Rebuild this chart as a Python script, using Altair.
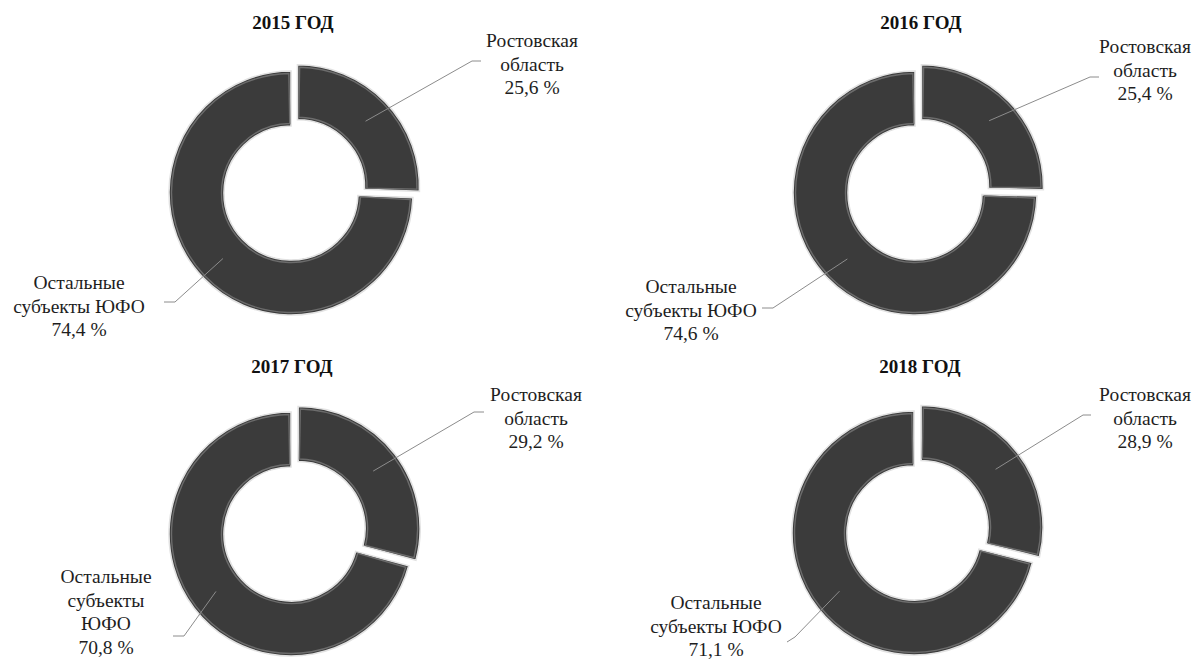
import altair as alt
import pandas as pd

# Share of the Rostov region among the subjects of the Southern Federal District (ЮФО), %
years = [2015, 2016, 2017, 2018]
rostov_share = [25.6, 25.4, 29.2, 28.9]
other_share = [74.4, 74.6, 70.8, 71.1]
rostov_text = "Ростовская\nобласть"
other_text = [
    "Остальные\nсубъекты ЮФО",
    "Остальные\nсубъекты ЮФО",
    "Остальные\nсубъекты\nЮФО",
    "Остальные\nсубъекты ЮФО",
]

# ---- layout (page pixels) ----
PAGE_W, PAGE_H = 1200, 662
R_IN, R_OUT = 67, 122
R_MID = (R_IN + R_OUT) / 2
EXPLODE = 9
FONT = "'Liberation Serif', 'Times New Roman', serif"
layout = {
    2015: dict(center=(291, 193), title=(293, 23),
               r_text=(532, 32), r_end=(481, 61), r_elbow=(472, 61),
               o_text=(79, 274), o_end=(164, 302), o_elbow=(175, 302)),
    2016: dict(center=(915, 193), title=(921, 23),
               r_text=(1145, 38), r_end=(1099, 77), r_elbow=(1090, 77),
               o_text=(691, 278), o_end=(762, 308), o_elbow=(773, 308)),
    2017: dict(center=(291, 534), title=(292, 367),
               r_text=(536, 386), r_end=(484, 412), r_elbow=(474, 412),
               o_text=(106, 568), o_end=(173, 636), o_elbow=(184, 636)),
    2018: dict(center=(914, 533), title=(920, 367),
               r_text=(1145, 386), r_end=(1091, 415), r_elbow=(1083, 415),
               o_text=(716, 594), o_end=(787, 642), o_elbow=(795, 637)),
}


def px(name):
    return alt.X(f"{name}:Q", scale=None, axis=None)


def py(name):
    return alt.Y(f"{name}:Q", scale=None, axis=None)


def pick(val_r, val_o):
    return f"datum.key == 'r' ? {val_r} : {val_o}"


def donut_layers(i):
    yr = years[i]
    L = layout[yr]
    cx, cy = L["center"]
    rt, ot = L["r_text"], L["o_text"]
    re_, oe = L["r_end"], L["o_end"]
    rb, ob = L["r_elbow"], L["o_elbow"]
    tt = L["title"]

    df = pd.DataFrame({
        "year": [yr, yr],
        "key": ["r", "o"],
        "region": ["Ростовская область", "Остальные субъекты ЮФО"],
        "label": [rostov_text, other_text[i]],
        "share": [rostov_share[i], other_share[i]],
        "order": [0, 1],
    })

    base = (
        alt.Chart(df)
        .transform_joinaggregate(total="sum(share)")
        .transform_window(cum="sum(share)", sort=[alt.SortField("order")])
        .transform_calculate(a1="2 * PI * datum.cum / datum.total")
        .transform_calculate(a0="2 * PI * (datum.cum - datum.share) / datum.total")
        .transform_calculate(mid="(datum.a0 + datum.a1) / 2")
        .transform_calculate(ex=pick(EXPLODE, 0))
        .transform_calculate(cx=f"{cx} + datum.ex * sin(datum.mid)")
        .transform_calculate(cy=f"{cy} - datum.ex * cos(datum.mid)")
        .transform_calculate(lx=f"datum.cx + {R_MID} * sin(datum.mid)")
        .transform_calculate(ly=f"datum.cy - {R_MID} * cos(datum.mid)")
        .transform_calculate(bx=pick(rb[0], ob[0]), by=pick(rb[1], ob[1]))
        .transform_calculate(ux=pick(re_[0], oe[0]), uy=pick(re_[1], oe[1]))
        .transform_calculate(tx=pick(rt[0], ot[0]), ty=pick(rt[1], ot[1]))
        .transform_calculate(
            txt="datum.label + '\\n' + replace(format(datum.share, '.1f'), '.', ',') + ' %'"
        )
        .transform_calculate(ia0="datum.a0 + 0.018", ia1="datum.a1 - 0.018")
    )

    ring = base.mark_arc(
        innerRadius=R_IN, outerRadius=R_OUT,
        fill="#3b3b3b", stroke="#e2e2e2", strokeWidth=1.6,
    ).encode(
        x=px("cx"), y=py("cy"),
        theta=alt.Theta("a0:Q", scale=None), theta2="a1:Q",
    )

    bevel = base.mark_arc(
        innerRadius=R_IN + 2.5, outerRadius=R_OUT - 2.5,
        fillOpacity=0, stroke="#6c6c6c", strokeWidth=1.4,
    ).encode(
        x=px("cx"), y=py("cy"),
        theta=alt.Theta("ia0:Q", scale=None), theta2="ia1:Q",
    )

    leader_in = base.mark_rule(color="#8c8c8c", strokeWidth=1).encode(
        x=px("lx"), y=py("ly"), x2="bx:Q", y2="by:Q",
    )
    leader_out = base.mark_rule(color="#8c8c8c", strokeWidth=1).encode(
        x=px("bx"), y=py("by"), x2="ux:Q", y2="uy:Q",
    )

    labels = base.mark_text(
        font=FONT, fontSize=19.5, lineHeight=23.5, baseline="top",
        align="center", lineBreak="\n", color="#1e1e1e",
    ).encode(x=px("tx"), y=py("ty"), text="txt:N")

    title = (
        base.transform_filter("datum.key == 'r'")
        .transform_calculate(t="datum.year + ' ГОД'")
        .mark_text(font=FONT, fontSize=19, fontWeight="bold",
                   baseline="middle", align="center", color="#111111")
        .encode(x=alt.value(tt[0]), y=alt.value(tt[1]), text="t:N")
    )

    return [ring, bevel, leader_in, leader_out, labels, title]


layers = []
for i in range(len(years)):
    layers.extend(donut_layers(i))

chart = (
    alt.layer(*layers)
    .properties(
        width=PAGE_W, height=PAGE_H, padding=0, background="white",
        autosize=alt.AutoSizeParams(type="none"),
    )
    .configure_view(stroke=None)
)

chart.save("out.html", embed_options={"renderer": "svg", "actions": False})
